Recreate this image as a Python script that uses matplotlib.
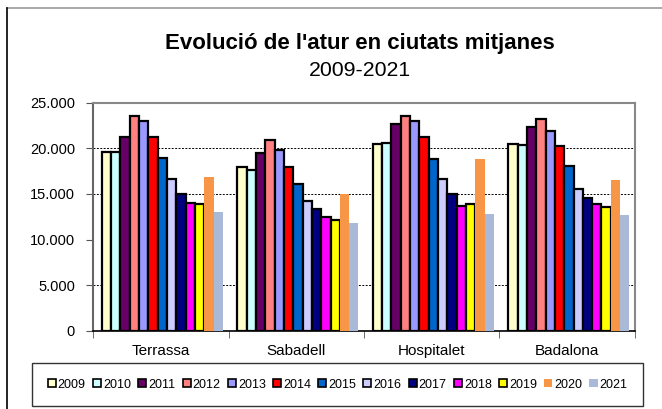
import numpy as np
import matplotlib.pyplot as plt
from matplotlib.patches import Patch
from matplotlib.lines import Line2D

plt.rcParams['font.family'] = ['Liberation Sans', 'DejaVu Sans']

# ── Data ───────────────────────────────────────────────────────────────────
cities = ['Terrassa', 'Sabadell', 'Hospitalet', 'Badalona']
years = ['2009', '2010', '2011', '2012', '2013', '2014', '2015',
         '2016', '2017', '2018', '2019', '2020', '2021']

terrassa   = [19650, 19650, 21300, 23600, 23020, 21260, 18920,
              16610, 15040, 14050, 13940, 16870, 13020]
sabadell   = [18000, 17640, 19540, 20930, 19870, 18000, 16100,
              14200, 13390, 12470, 12140, 14960, 11810]
hospitalet = [20460, 20570, 22660, 23600, 23060, 21300, 18880,
              16610, 15040, 13680, 13940, 18850, 12800]
badalona   = [20460, 20420, 22400, 23200, 21920, 20310, 18110,
              15580, 14590, 13940, 13600, 16540, 12690]

colors = ['#FFFFCC', '#CCFFFF', '#660066', '#FF8080', '#9999FF', '#FF0000',
          '#0066CC', '#CCCCFF', '#000080', '#FF00FF', '#FFFF00', '#F79646',
          '#AAB9D8']
outlined = [True] * 11 + [False, False]

yticks = [0, 5000, 10000, 15000, 20000, 25000]
ytick_labels = ['0', '5.000', '10.000', '15.000', '20.000', '25.000']
grid_levels = [5000, 15000, 20000]

# ── Plot ───────────────────────────────────────────────────────────────────
values = np.array([terrassa, sabadell, hospitalet, badalona])

fig = plt.figure(figsize=(6.62, 4.09), dpi=100)
ax = fig.add_axes([0.1405, 0.1919, 0.8187, 0.5563])

n = len(years)
w = 0.0688
x = np.arange(len(cities))
start = -n * w / 2 + 0.012
for j, yr in enumerate(years):
    ax.bar(x + start + (j + 0.5) * w, values[:, j], width=w,
           color=colors[j],
           edgecolor='black' if outlined[j] else 'none',
           linewidth=1.6 if outlined[j] else 0, zorder=3)

for g in grid_levels:
    ax.axhline(g, color='black', linestyle=(0, (2, 1.5)), linewidth=0.7,
               zorder=1)

ax.set_xlim(-0.5, len(cities) - 0.5)
ax.set_ylim(0, 25000)
ax.set_yticks(yticks)
ax.set_yticklabels(ytick_labels, fontsize=10.5)
ax.set_xticks(x)
ax.set_xticklabels(cities, fontsize=11)
ax.tick_params(axis='x', length=0, pad=10)
ax.set_xticks(np.arange(-0.5, len(cities)), minor=True)
ax.tick_params(axis='x', which='minor', length=5, direction='out',
               color='#555555')
ax.tick_params(axis='y', length=5, direction='out', color='#555555', pad=8)

for s in ['top', 'right']:
    ax.spines[s].set_color('#888888')
    ax.spines[s].set_linewidth(1.5)
ax.spines['left'].set_color('#666666')
ax.spines['left'].set_linewidth(1.5)
ax.spines['bottom'].set_color('black')
ax.spines['bottom'].set_linewidth(1.2)

fig.text(0.544, 1 - 44 / 409, "Evolució de l'atur en ciutats mitjanes",
         ha='center', va='center', fontsize=16, fontweight='bold')
fig.text(0.544, 1 - 70.5 / 409, '2009-2021', ha='center', va='center',
         fontsize=15.3)

# outer chart frame (cropped)
fig.add_artist(Line2D([7 / 662, 1], [1 - 8 / 409, 1 - 8 / 409],
                      color='#999999', linewidth=1.2))
fig.add_artist(Line2D([7 / 662, 7 / 662], [0, 1 - 8 / 409],
                      color='black', linewidth=1.2))

handles = [Patch(facecolor=c, edgecolor='black' if o else c,
                 linewidth=1.2 if o else 0)
           for c, o in zip(colors, outlined)]
leg = fig.legend(handles, years, loc='center', ncol=n,
                 bbox_to_anchor=(0.51, 1 - 384.5 / 409),
                 fontsize=9, handlelength=0.65, handleheight=0.65,
                 handletextpad=0.15, columnspacing=0.58,
                 frameon=True, fancybox=False, borderpad=1.25)
leg.get_frame().set_edgecolor('black')
leg.get_frame().set_linewidth(1.0)

fig.savefig('out.png', dpi=100)
